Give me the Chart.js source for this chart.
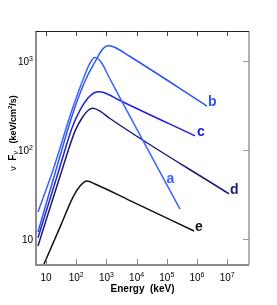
<!DOCTYPE html>
<html>
<head>
<meta charset="utf-8">
<script src="https://cdn.jsdelivr.net/npm/chart.js@4.4.0/dist/chart.umd.min.js"></script>
<style>
  html, body { margin: 0; padding: 0; background: #fff; }
  #wrap { width: 277px; height: 305px; }
</style>
</head>
<body>
<div id="wrap"><canvas id="spectrum" width="277" height="305"></canvas></div>
<script>
// spectra: energy (keV) vs nu F_nu (keV/cm^2/s)
const energyA = [5.43, 17.1, 72.6, 181, 286, 420, 663, 1316, 3289, 2.74e5];
const fluxA   = [20.1, 59.6, 281, 661, 950, 1095, 975, 628, 349, 21.7];

const energyB = [5.43, 21.4, 84.6, 211, 420, 715, 1130, 1786, 6040, 2.14e6];
const fluxB   = [12.0, 59.6, 281, 628, 975, 1330, 1486, 1436, 1124, 312];

const energyC = [5.43, 26.9, 72.6, 134, 246, 388, 569, 899, 2818, 8.59e5];
const fluxC   = [10.3, 59.6, 177, 281, 384, 437, 452, 437, 360, 144];

const energyD = [5.43, 33.9, 91.2, 156, 246, 360, 614, 1316, 1.15e7];
const fluxD   = [8.34, 59.6, 163, 229, 278, 294, 274, 226, 32.1];

const energyE = [5.43, 31.4, 78.4, 134, 228, 420, 6040, 7.96e5];
const fluxE   = [3.65, 14.4, 29.6, 39.4, 44.9, 41.5, 27.0, 12.3];

const curveNames = ['a', 'b', 'c', 'd', 'e'];
const curveColors = ['#3a64ff', '#2f55f2', '#2020d8', '#1b1b78', '#111111'];

// letters a..e, placed in data units (left edge, baseline)
const nameEnergy = [9.77e4, 2.31e6, 1.0e6, 1.24e7, 8.6e5];
const nameFlux   = [42.6, 312, 144, 32.1, 12.3];

const xTicks = [10, 1e2, 1e3, 1e4, 1e5, 1e6, 1e7];
const xTickLabels = ['10', '10^2', '10^3', '10^4', '10^5', '10^6', '10^7'];
const yTicks = [10, 100, 1000];
const yTickLabels = ['10', '10^2', '10^3'];

const fam = '"Liberation Sans", Arial, Helvetica, sans-serif';
const tickFont = '10px ' + fam;
const expFont = '7px ' + fam;

function pts(xs, ys) {
    return xs.map((x, i) => ({ x: x, y: ys[i] }));
}

const allX = [energyA, energyB, energyC, energyD, energyE];
const allY = [fluxA, fluxB, fluxC, fluxD, fluxE];

const datasets = curveNames.map((n, i) => ({
    label: n,
    data: pts(allX[i], allY[i]),
    borderColor: curveColors[i],
    borderWidth: 1.5,
    pointRadius: 0,
    fill: false,
    cubicInterpolationMode: 'monotone'
}));

function drawPower(ctx, text, x, y, align) {
    const parts = text.split('^');
    ctx.font = tickFont;
    const wBase = ctx.measureText(parts[0]).width;
    ctx.font = expFont;
    const wExp = parts[1] ? ctx.measureText(parts[1]).width : 0;
    const total = wBase + wExp;
    const x0 = align === 'right' ? x - total : x - total / 2;
    ctx.textAlign = 'left';
    ctx.textBaseline = 'alphabetic';
    ctx.font = tickFont;
    ctx.fillText(parts[0], x0, y);
    if (parts[1]) {
        ctx.font = expFont;
        ctx.fillText(parts[1], x0 + wBase, y - 4);
    }
}

const framePlugin = {
    id: 'frame',
    afterDraw(chart) {
        const ctx = chart.ctx;
        const a = chart.chartArea;
        const xs = chart.scales.x, ys = chart.scales.y;
        ctx.save();

        // frame
        ctx.strokeStyle = '#8c8c8c';
        ctx.lineWidth = 2;
        ctx.beginPath();
        ctx.moveTo(a.left, a.top);
        ctx.lineTo(a.left, a.bottom);
        ctx.lineTo(a.right, a.bottom);
        ctx.stroke();
        ctx.strokeStyle = '#999';
        ctx.lineWidth = 1.5;
        ctx.beginPath();
        ctx.moveTo(a.right, a.top);
        ctx.lineTo(a.right, a.bottom);
        ctx.stroke();
        ctx.strokeStyle = '#222';
        ctx.lineWidth = 1;
        ctx.beginPath();
        ctx.moveTo(a.left, a.top + 0.5);
        ctx.lineTo(a.right, a.top + 0.5);
        ctx.stroke();

        // inward ticks
        xTicks.forEach(v => {
            const px = Math.round(xs.getPixelForValue(v)) + 0.5;
            ctx.strokeStyle = '#444';
            ctx.beginPath();
            ctx.moveTo(px, a.top);
            ctx.lineTo(px, a.top + 5);
            ctx.stroke();
            ctx.strokeStyle = '#888';
            ctx.beginPath();
            ctx.moveTo(px, a.bottom);
            ctx.lineTo(px, a.bottom - 6);
            ctx.stroke();
        });
        yTicks.forEach(v => {
            const py = Math.round(ys.getPixelForValue(v)) + 0.5;
            ctx.strokeStyle = '#999';
            ctx.beginPath();
            ctx.moveTo(a.right, py);
            ctx.lineTo(a.right - 6, py);
            ctx.stroke();
        });

        // tick labels
        ctx.fillStyle = '#000';
        xTicks.forEach((v, i) => {
            drawPower(ctx, xTickLabels[i], xs.getPixelForValue(v), a.bottom + 16, 'center');
        });
        yTicks.forEach((v, i) => {
            drawPower(ctx, yTickLabels[i], a.left - 3, ys.getPixelForValue(v) + 4, 'right');
        });

        // x title
        ctx.font = 'bold 10px ' + fam;
        ctx.textAlign = 'center';
        ctx.textBaseline = 'alphabetic';
        ctx.fillText('Energy  (keV)', (a.left + a.right) / 2, 292);

        // y title, rotated
        const pieces = [
            { t: '\u03bd', f: '9px ' + fam, dy: 0 },
            { t: '  F', f: 'bold 10px ' + fam, dy: 0 },
            { t: '\u03bd', f: '7px ' + fam, dy: 2 },
            { t: '   (keV/cm', f: 'bold 9px ' + fam, dy: 0 },
            { t: '2', f: 'bold 6px ' + fam, dy: -4 },
            { t: '/s)', f: 'bold 9px ' + fam, dy: 0 }
        ];
        let total = 0;
        pieces.forEach(p => { ctx.font = p.f; p.w = ctx.measureText(p.t).width; total += p.w; });
        ctx.translate(16, (a.top + a.bottom) / 2 - 15);
        ctx.rotate(-Math.PI / 2);
        ctx.textAlign = 'left';
        let cx = -total / 2;
        pieces.forEach(p => {
            ctx.font = p.f;
            ctx.fillText(p.t, cx, p.dy);
            cx += p.w;
        });
        ctx.setTransform(1, 0, 0, 1, 0, 0);

        // curve letters
        ctx.font = 'bold 14px ' + fam;
        ctx.textAlign = 'left';
        curveNames.forEach((n, i) => {
            ctx.fillStyle = curveColors[i];
            ctx.fillText(n, xs.getPixelForValue(nameEnergy[i]), ys.getPixelForValue(nameFlux[i]));
        });
        ctx.restore();
    }
};

const ctx = document.getElementById('spectrum').getContext('2d');
const chart = new Chart(ctx, {
    type: 'line',
    data: { datasets: datasets },
    options: {
        responsive: false,
        devicePixelRatio: 1,
        animation: false,
        layout: { padding: { top: 31, right: 28, left: 0, bottom: 0 } },
        plugins: { legend: { display: false }, tooltip: { enabled: false } },
        scales: {
            x: {
                type: 'logarithmic',
                min: 4.67,
                max: 5.27e7,
                grid: { display: false },
                border: { display: false },
                ticks: { display: false },
                afterFit: s => { s.height = 40; }
            },
            y: {
                type: 'logarithmic',
                min: 5.1,
                max: 2175,
                grid: { display: false },
                border: { display: false },
                ticks: { display: false },
                afterFit: s => { s.width = 36; }
            }
        }
    },
    plugins: [framePlugin]
});
</script>
</body>
</html>
